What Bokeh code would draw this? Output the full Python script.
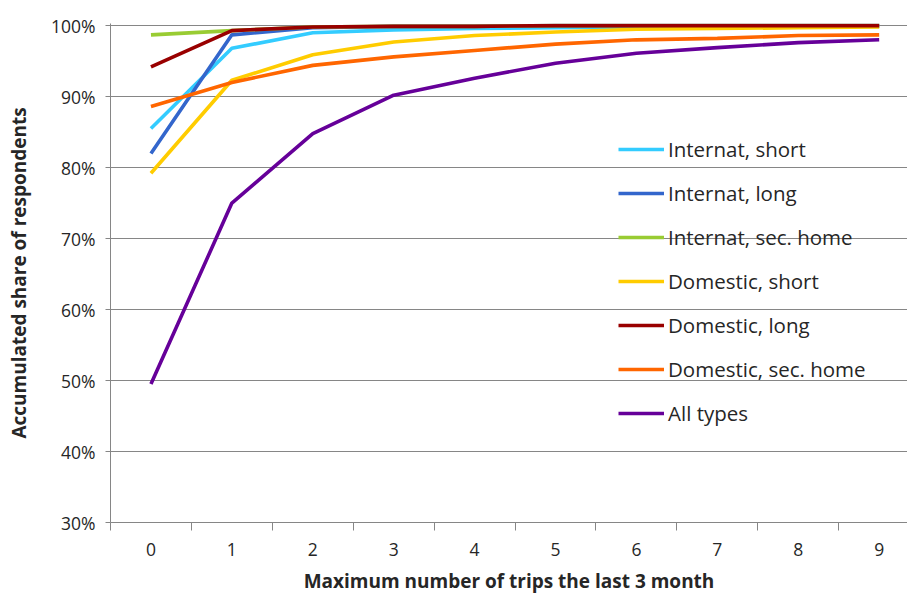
from bokeh.plotting import figure
from bokeh.models import FixedTicker, NumeralTickFormatter, Legend, LegendItem, Range1d
from bokeh.embed import file_html
from bokeh.resources import INLINE

trips = [0, 1, 2, 3, 4, 5, 6, 7, 8, 9]
series_names = ["Internat, short", "Internat, long", "Internat, sec. home",
                "Domestic, short", "Domestic, long", "Domestic, sec. home", "All types"]
internat_short = [0.855, 0.968, 0.990, 0.994, 0.996, 0.997, 0.998, 0.998, 0.999, 0.999]
internat_long = [0.820, 0.987, 0.997, 0.999, 0.999, 1.000, 1.000, 1.000, 1.000, 1.000]
internat_sec_home = [0.987, 0.993, 0.998, 0.999, 0.999, 1.000, 1.000, 1.000, 1.000, 1.000]
domestic_short = [0.792, 0.923, 0.959, 0.977, 0.986, 0.991, 0.995, 0.996, 0.997, 0.998]
domestic_long = [0.942, 0.993, 0.998, 0.999, 0.999, 1.000, 1.000, 1.000, 1.000, 1.000]
domestic_sec_home = [0.886, 0.920, 0.944, 0.956, 0.965, 0.974, 0.980, 0.982, 0.986, 0.987]
all_types = [0.495, 0.750, 0.848, 0.902, 0.926, 0.947, 0.961, 0.969, 0.976, 0.980]
y_ticks = [0.3, 0.4, 0.5, 0.6, 0.7, 0.8, 0.9, 1.0]

series = [internat_short, internat_long, internat_sec_home,
          domestic_short, domestic_long, domestic_sec_home, all_types]
colors = ["#33CCFF", "#3366CC", "#99CC33", "#FFCC00", "#990000", "#FF6600", "#660099"]

FONT = "Open Sans"
TXT = "#262626"

p = figure(width=907, height=596, output_backend="svg", toolbar_location=None,
           x_range=Range1d(-0.5, 9.35), y_range=Range1d(0.30, 1.003),
           min_border_left=110, min_border_right=0, min_border_top=23, min_border_bottom=73)
p.outline_line_color = None
p.background_fill_color = "white"

renderers = []
for vals, col in zip(series, colors):
    r = p.line(trips, vals, line_color=col, line_width=3.6)
    renderers.append(r)

# axes
p.xaxis.ticker = FixedTicker(ticks=trips, minor_ticks=[t - 0.5 for t in trips] + [9.5])
p.xaxis.major_tick_line_color = None
p.xaxis.minor_tick_line_color = "#868686"
p.xaxis.minor_tick_in = 0
p.xaxis.minor_tick_out = 8
p.xaxis.axis_line_color = "#868686"
p.xaxis.major_label_text_font = FONT
p.xaxis.major_label_text_font_size = "17.5px"
p.xaxis.major_label_text_color = TXT
p.xaxis.major_label_standoff = 12
p.xaxis.axis_label = "Maximum number of trips the last 3 month"
p.xaxis.axis_label_text_font = FONT
p.xaxis.axis_label_text_font_size = "19px"
p.xaxis.axis_label_text_font_style = "bold"
p.xaxis.axis_label_text_color = TXT
p.xaxis.axis_label_standoff = 9

p.yaxis.ticker = FixedTicker(ticks=y_ticks)
p.yaxis.formatter = NumeralTickFormatter(format="0%")
p.yaxis.major_tick_line_color = "#868686"
p.yaxis.major_tick_in = 0
p.yaxis.major_tick_out = 5
p.yaxis.minor_tick_line_color = None
p.yaxis.axis_line_color = "#868686"
p.yaxis.major_label_text_font = FONT
p.yaxis.major_label_text_font_size = "17.5px"
p.yaxis.major_label_text_color = TXT
p.yaxis.major_label_standoff = 10
p.yaxis.axis_label = "Accumulated share of respondents"
p.yaxis.axis_label_text_font = FONT
p.yaxis.axis_label_text_font_size = "19px"
p.yaxis.axis_label_text_font_style = "bold"
p.yaxis.axis_label_text_color = TXT
p.yaxis.axis_label_standoff = 16

p.xgrid.grid_line_color = None
p.ygrid.ticker = FixedTicker(ticks=y_ticks)
p.ygrid.grid_line_color = "#868686"
p.ygrid.grid_line_width = 1

legend = Legend(items=[LegendItem(label=n, renderers=[r]) for n, r in zip(series_names, renderers)],
                location=(508, 94), orientation="vertical")
legend.glyph_width = 46
legend.glyph_height = 30
legend.label_height = 30
legend.label_standoff = 4
legend.spacing = 14
legend.padding = 0
legend.margin = 0
legend.border_line_color = None
legend.background_fill_alpha = 0
legend.label_text_font = FONT
legend.label_text_font_size = "20.5px"
legend.label_text_color = TXT
p.add_layout(legend, "center")

open("out.html", "w").write(file_html(p, INLINE))
